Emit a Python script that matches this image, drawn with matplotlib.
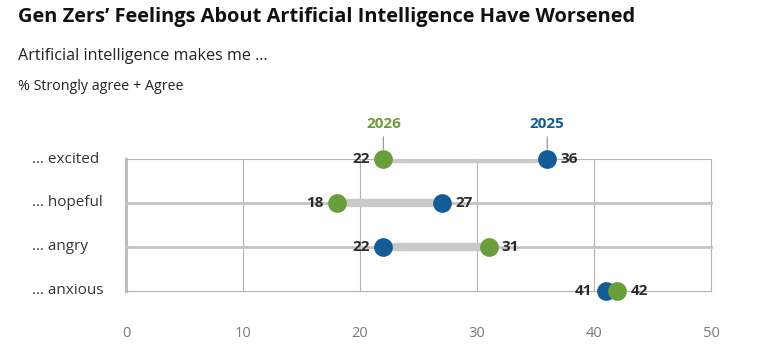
import matplotlib.pyplot as plt
import matplotlib.transforms as mtransforms

plt.rcParams["font.family"] = ["Open Sans", "DejaVu Sans"]

categories = ["… excited", "… hopeful", "… angry", "… anxious"]
vals_2025 = [36, 27, 22, 41]
vals_2026 = [22, 18, 31, 42]
xticks = [0, 10, 20, 30, 40, 50]

GREEN = "#6a9e3c"
BLUE = "#135c98"
GRID = "#b3b3b3"
BAND = "#c9c9c9"
LABEL = "#2b2b2b"

fig = plt.figure(figsize=(7.61, 3.55), dpi=100)
ax = fig.add_axes([126 / 761, 1 - 291 / 355, 585 / 761, 132 / 355])
ax.set_xlim(0, 50)
ax.set_ylim(3, 0)
for s in ax.spines.values():
    s.set_visible(False)

# grid
for x in xticks[1:]:
    ax.axvline(x, color=GRID, lw=0.8, zorder=1, clip_on=False)
ax.axvline(0, color="#bdbdbd", lw=2.2, zorder=1, clip_on=False)
for i in range(len(categories)):
    lw = 0.8 if i in (0, len(categories) - 1) else 2.0
    ax.axhline(i, color=GRID if lw < 1 else "#c4c4c4", lw=lw, zorder=1,
               clip_on=False)

ax.set_xticks(xticks)
ax.set_yticks([])
ax.tick_params(axis="x", length=0, pad=25, labelsize=10.5, labelcolor="#7a7a7a")

trans = mtransforms.blended_transform_factory(fig.transFigure, ax.transData)
for i, cat in enumerate(categories):
    ax.text(32 / 761, i, cat, transform=trans, ha="left", va="center",
            fontsize=11, color="#333333")

for i, (a, b) in enumerate(zip(vals_2025, vals_2026)):
    ax.plot([a, b], [i, i], color=BAND, lw=6, solid_capstyle="butt", zorder=2)
    ax.plot([a], [i], "o", color=BLUE, ms=13.5, mew=0, zorder=3, clip_on=False)
    ax.plot([b], [i], "o", color=GREEN, ms=13.5, mew=0, zorder=4, clip_on=False)
    lo, hi = min(a, b), max(a, b)
    ax.annotate(str(lo), (lo, i), xytext=(-9.5, 0), textcoords="offset points",
                ha="right", va="center", fontsize=11, fontweight="bold",
                color=LABEL, zorder=5)
    ax.annotate(str(hi), (hi, i), xytext=(9.5, 0), textcoords="offset points",
                ha="left", va="center", fontsize=11, fontweight="bold",
                color=LABEL, zorder=5)

# year labels above the first row
for val, year, col in [(vals_2026[0], "2026", GREEN), (vals_2025[0], "2025", BLUE)]:
    ax.annotate(year, (val, 0), xytext=(0, 20), textcoords="offset points",
                ha="center", va="bottom", fontsize=11, fontweight="bold",
                color=col, annotation_clip=False,
                arrowprops=dict(arrowstyle="-", color="#9a9a9a", lw=0.9,
                                shrinkA=2, shrinkB=7))

fig.text(18 / 761, 1 - 17 / 355, "Gen Zers’ Feelings About Artificial Intelligence Have Worsened",
         ha="left", va="center", fontsize=14.4, fontweight="bold", color="#111111")
fig.text(18 / 761, 1 - 56 / 355, "Artificial intelligence makes me ...",
         ha="left", va="center", fontsize=11.6, color="#222222")
fig.text(18 / 761, 1 - 87 / 355, "% Strongly agree + Agree",
         ha="left", va="center", fontsize=10.3, color="#222222")

fig.savefig("out.png", dpi=100)
